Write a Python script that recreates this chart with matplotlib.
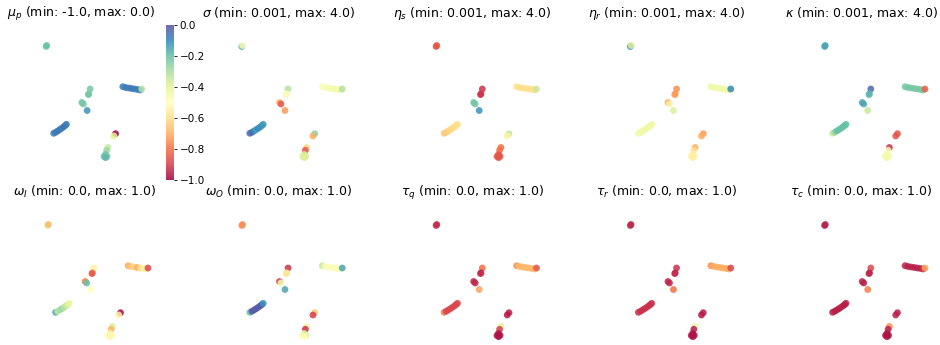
import matplotlib
matplotlib.use("Agg")
import matplotlib.pyplot as plt
import numpy as np

# --- embedding coordinates (arbitrary units) ---
emb_x = [-0.07, 0.00,
         7.98, 8.27, 8.59, 8.90, 9.21, 9.53, 9.79, 9.97,
         4.55, 4.42, 4.37,
         3.69, 3.84,
         4.24,
         0.73, 0.94, 1.15, 1.36, 1.57, 1.78, 1.94, 2.07,
         7.22, 7.04,
         6.41, 6.28,
         6.16, 6.02, 6.33, 6.18]
emb_y = [11.35, 11.45,
         7.33, 7.25, 7.20, 7.15, 7.10, 7.05, 7.00, 7.10,
         7.10, 6.62, 6.54,
         5.75, 5.60,
         4.95,
         2.67, 2.77, 2.90, 3.03, 3.17, 3.32, 3.45, 3.57,
         2.63, 2.40,
         1.25, 0.97,
         0.55, 0.35, 0.37, 0.23]

# --- per-panel parameter values (same point order) ---
mu_p = [-0.22, -0.20,
        -0.08, -0.08, -0.08, -0.07, -0.08, -0.08, -0.10, -0.32,
        -0.22, -0.24, -0.22,
        -0.20, -0.22,
        -0.12,
        -0.08, -0.08, -0.07, -0.08, -0.08, -0.07, -0.07, -0.08,
        -1.00, -0.40,
        -0.35, -0.28,
        -0.22, -0.20, -0.22, -0.18]
sigma = [3.40, 2.08,
         2.10, 2.10, 2.15, 2.15, 2.20, 2.20, 2.20, 2.72,
         2.72, 2.08, 2.08,
         1.28, 0.60,
         1.08,
         3.80, 3.80, 3.60, 3.45, 3.60, 3.52, 3.52, 3.48,
         3.00, 1.20,
         1.52, 0.60,
         2.48, 2.48, 2.48, 2.48]
eta_s = [0.60, 0.60,
         1.60, 1.60, 1.60, 1.60, 1.60, 1.60, 1.60, 2.60,
         0.32, 0.40, 0.32,
         3.20, 3.12,
         3.52,
         1.40, 1.44, 1.48, 1.52, 1.56, 1.56, 1.60, 1.60,
         2.60, 1.80,
         0.80, 0.80,
         0.60, 0.60, 0.60, 0.60]
eta_r = [3.60, 2.48,
         2.24, 2.24, 2.24, 2.24, 2.24, 2.24, 2.24, 3.60,
         1.00, 1.08, 1.08,
         1.20, 1.84,
         2.48,
         2.24, 2.24, 2.24, 2.24, 2.24, 2.24, 2.24, 2.24,
         1.08, 1.20,
         1.20, 1.68,
         1.80, 1.80, 1.80, 1.80]
kappa = [3.40, 3.40,
         3.12, 3.12, 3.12, 3.12, 3.12, 3.12, 3.12, 0.70,
         3.80, 3.28, 3.28,
         3.40, 3.40,
         2.60,
         2.60, 2.88, 3.20, 3.20, 3.20, 3.20, 3.20, 3.20,
         0.60, 0.60,
         0.32, 2.08,
         2.20, 2.20, 2.20, 2.20]
omega_i = [0.62, 0.32,
           0.30, 0.35, 0.38, 0.30, 0.40, 0.45, 0.45, 0.12,
           0.45, 0.25, 0.15,
           0.22, 0.80,
           0.50,
           0.85, 0.65, 0.70, 0.72, 0.68, 0.65, 0.62, 0.58,
           0.02, 0.45,
           0.62, 0.32,
           0.47, 0.47, 0.47, 0.47]
omega_o = [0.25, 0.25,
           0.65, 0.52, 0.52, 0.52, 0.52, 0.52, 0.52, 0.85,
           0.08, 0.42, 0.42,
           0.10, 0.55,
           0.85,
           0.80, 0.98, 0.98, 0.98, 0.98, 0.98, 0.98, 0.88,
           0.35, 0.10,
           0.45, 0.08,
           0.60, 0.55, 0.62, 0.50]
tau_q = [0.07, 0.07,
         0.25, 0.32, 0.32, 0.32, 0.32, 0.32, 0.32, 0.15,
         0.20, 0.07, 0.07,
         0.05, 0.06,
         0.28,
         0.22, 0.12, 0.12, 0.12, 0.12, 0.12, 0.12, 0.12,
         0.04, 0.04,
         0.60, 0.10,
         0.03, 0.03, 0.03, 0.03]
tau_r = [0.06, 0.06,
         0.25, 0.30, 0.30, 0.30, 0.30, 0.30, 0.30, 0.12,
         0.08, 0.07, 0.07,
         0.06, 0.06,
         0.20,
         0.08, 0.08, 0.08, 0.08, 0.08, 0.08, 0.08, 0.08,
         0.04, 0.04,
         0.55, 0.05,
         0.03, 0.03, 0.03, 0.03]
tau_c = [0.05, 0.05,
         0.05, 0.05, 0.05, 0.05, 0.05, 0.05, 0.08, 0.28,
         0.12, 0.06, 0.06,
         0.05, 0.05,
         0.22,
         0.05, 0.05, 0.05, 0.05, 0.05, 0.05, 0.05, 0.05,
         0.05, 0.05,
         0.25, 0.05,
         0.03, 0.03, 0.03, 0.03]

labels = [r"$\mu_p$", r"$\sigma$", r"$\eta_s$", r"$\eta_r$", r"$\kappa$",
          r"$\omega_I$", r"$\omega_O$", r"$\tau_q$", r"$\tau_r$", r"$\tau_c$"]
vmins = [-1.0, 0.001, 0.001, 0.001, 0.001, 0.0, 0.0, 0.0, 0.0, 0.0]
vmaxs = [0.0, 4.0, 4.0, 4.0, 4.0, 1.0, 1.0, 1.0, 1.0, 1.0]
series = [mu_p, sigma, eta_s, eta_r, kappa, omega_i, omega_o, tau_q, tau_r, tau_c]

# layout in pixels of a 940x345 canvas
W, H = 940, 345
COL_STEP = 194.25
AX_LEFT0 = 14
AX_W = 140
AX_H = 155
ROW_TOP = [25, 204]
XLIM = (-3.43, 10.57)
YLIM = (-2.0, 13.5)


def px_axes(fig, left, top, w, h):
    return fig.add_axes([left / W, 1 - (top + h) / H, w / W, h / H])


fig = plt.figure(figsize=(W / 100, H / 100), dpi=100)

for k, (lab, vals, lo, hi) in enumerate(zip(labels, series, vmins, vmaxs)):
    row, col = divmod(k, 5)
    width = AX_W - 6.5 if k == 0 else AX_W
    ax = px_axes(fig, AX_LEFT0 + col * COL_STEP, ROW_TOP[row], width, AX_H)
    sc = ax.scatter(emb_x, emb_y, c=vals, cmap="Spectral", vmin=lo, vmax=hi,
                    s=24, alpha=0.85, linewidths=0)
    ax.set_xlim(*XLIM)
    ax.set_ylim(*YLIM)
    ax.set_title(f"{lab} (min: {lo}, max: {hi})", fontsize=9)
    ax.axis("off")
    if k == 0:
        cax = px_axes(fig, 166, 25, 8, 155)
        cb = fig.colorbar(sc, cax=cax)
        cb.set_ticks([0.0, -0.2, -0.4, -0.6, -0.8, -1.0])
        cb.outline.set_visible(False)
        cax.tick_params(labelsize=7.5, length=2.5, width=0.6, pad=1.5)

fig.savefig("out.png", dpi=100, facecolor="white")
